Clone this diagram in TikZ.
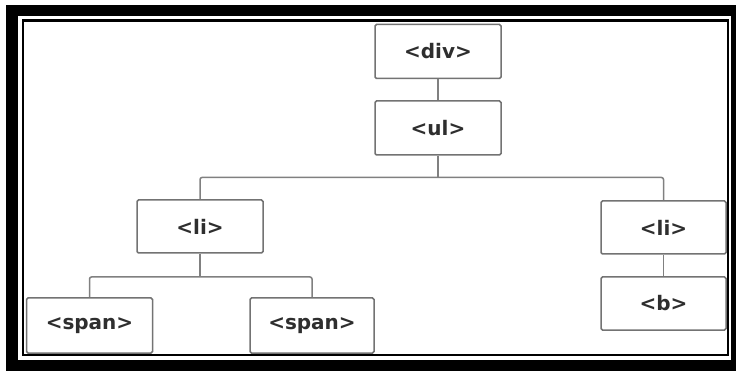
\documentclass[tikz,border=0pt]{standalone}
\usepackage{fontspec}
\setmainfont{DejaVu Sans}
\begin{document}
\begin{tikzpicture}[x=1pt,y=-1pt,
  tag/.style={draw=black!55,line width=1.5pt,rounded corners=1.5pt,fill=white,
    minimum width=126pt,minimum height=54pt,inner sep=0pt,
    text=black!82,font=\bfseries\fontsize{20}{24}\selectfont},
  conn/.style={draw=black!50,line width=1.5pt,rounded corners=2pt}]
\useasboundingbox (0,0) rectangle (736,371);
\fill[white] (0,0) rectangle (736,371);
\fill[black] (6,5) rectangle (736,371);
\fill[white] (18,16) rectangle (731,359.5);
\draw[black,line width=2.2pt] (23,20.5) rectangle (728,355);
% nodes
\node[tag] (div) at (438,51.5) {<div>};
\node[tag] (ul) at (438,128) {<ul>};
\node[tag,minimum height=53pt] (li1) at (200,226.5) {<li>};
\node[tag,minimum height=53pt,minimum width=125pt] (li2) at (663.5,227.5) {<li>};
\node[tag,minimum height=53pt,minimum width=125pt] (b) at (663.5,303.5) {<b>};
\node[tag,minimum height=55pt] (span1) at (89.5,325.5) {<span>};
\node[tag,minimum height=55pt,minimum width=124pt] (span2) at (312,325.5) {<span>};
% junctions
\coordinate (j1) at (438,177.5);
\coordinate (j2) at (200,277);
% connectors
\draw[conn] (div.south) -- (ul.north);
\draw[conn] (ul.south) -- (j1);
\draw[conn] (li1.north) |- (j1) -| (li2.north);
\draw[conn] (li2.south) -- (b.north);
\draw[conn] (li1.south) -- (j2);
\draw[conn] (span1.north) |- (j2) -| (span2.north);
\end{tikzpicture}
\end{document}
